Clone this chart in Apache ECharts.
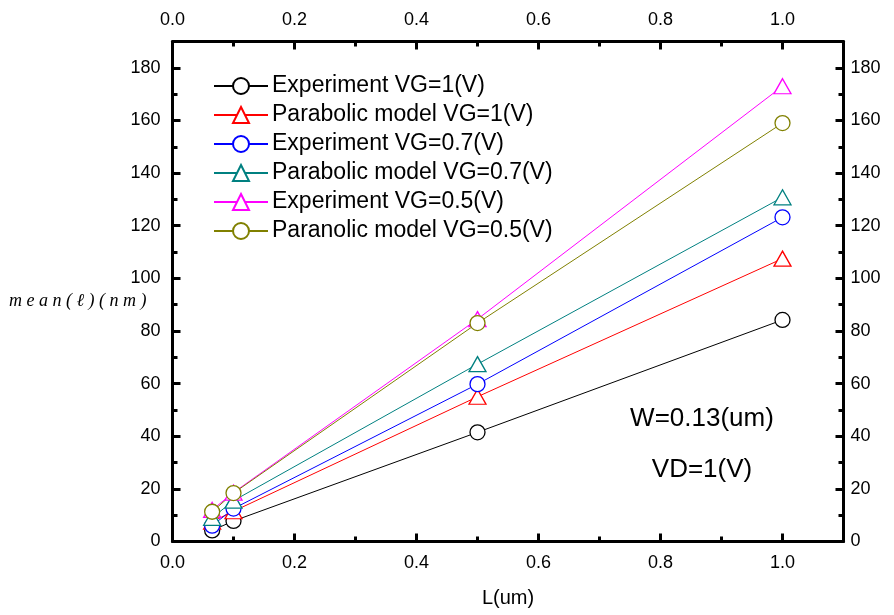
<!DOCTYPE html>
<html><head><meta charset="utf-8">
<script src="https://cdn.jsdelivr.net/npm/echarts@6/dist/echarts.min.js"></script>
<style>html,body{margin:0;padding:0;background:#fff}#c{width:894px;height:615px}</style>
</head><body><div id="c"></div>
<script>
const L = [0.065, 0.1, 0.5, 1.0];
const expVG1 = [4.2, 7.8, 41.5, 84.2];
const parVG1 = [7.5, 11.5, 55, 107.5];
const expVG07 = [6, 12.5, 59.8, 123.2];
const parVG07 = [9, 15.5, 67.4, 130.8];
const expVG05 = [12, 18.6, 84.5, 173];
const parVG05 = [11.3, 18.4, 83, 159];
const names = ['Experiment VG=1(V)','Parabolic model VG=1(V)','Experiment VG=0.7(V)','Parabolic model VG=0.7(V)','Experiment VG=0.5(V)','Paranolic model VG=0.5(V)'];
const colors = ['#000000','#ff0000','#0000ff','#008080','#ff00ff','#808000'];
const symbols = ['circle','triangle','circle','triangle','triangle','circle'];
const values = [expVG1, parVG1, expVG07, parVG07, expVG05, parVG05];

const FONT = 'Liberation Sans, Arial, sans-serif';
const chart = echarts.init(document.getElementById('c'));
function xAx(pos){
  return {type:'value', position:pos, min:0, max:1.1, interval:0.2,
    axisLine:{show:true, onZero:false, lineStyle:{color:'#000', width:3}},
    axisTick:{show:true, inside:true, length:8, lineStyle:{color:'#000', width:3}},
    minorTick:{show:true, splitNumber:2, length:5, lineStyle:{color:'#000', width:3}},
    splitLine:{show:false},
    axisLabel:{show:true, showMaxLabel:false, color:'#000', fontSize:18, fontFamily:FONT, margin:pos==='bottom'?13:12, formatter:v=>v.toFixed(1)}
  };
}
function yAx(pos){
  return {type:'value', position:pos, min:0, max:190, interval:20,
    axisLine:{show:true, onZero:false, lineStyle:{color:'#000', width:3}},
    axisTick:{show:true, inside:true, length:8, lineStyle:{color:'#000', width:3}},
    minorTick:{show:true, splitNumber:2, length:5, lineStyle:{color:'#000', width:3}},
    splitLine:{show:false},
    axisLabel:{show:true, showMaxLabel:false, color:'#000', fontSize:18, fontFamily:FONT, margin:pos==='left'?12:7}
  };
}
const series = values.map((vals,i)=>({
  name:names[i], type:'line', xAxisIndex:0, yAxisIndex:0,
  data:L.map((x,j)=>[x, vals[j]]),
  symbol:symbols[i], symbolSize: symbols[i]==='circle'?15:[17,15],
  showAllSymbol:true,
  lineStyle:{color:colors[i], width:1},
  itemStyle:{color:'#fff', borderColor:colors[i], borderWidth:1.3},
  emphasis:{disabled:true}, animation:false
}));
chart.setOption({
  animation:false,
  grid:{left:172.5, right:50.5, top:41.5, bottom:73.5, containLabel:false},
  xAxis:[xAx('bottom'), xAx('top')],
  yAxis:[yAx('left'), yAx('right')],
  legend:{orient:'vertical', left:208, top:69, itemWidth:54, itemHeight:20, itemGap:5,
    data:names,
    textStyle:{fontSize:23, fontFamily:FONT, color:'#000', lineHeight:24, padding:[0,0,0,-1]}, selectedMode:false},
  graphic:[
    {type:'text', left:9, top:292, style:{text:'m e a n ( ℓ ) ( n m )', font:'italic 18px "Liberation Serif", "Times New Roman", serif', fill:'#000'}},
    {type:'text', style:{text:'L(um)', font:'20px '+FONT, fill:'#000', x:508, y:598, textAlign:'center', textVerticalAlign:'middle'}},
    {type:'text', style:{text:'W=0.13(um)', font:'26px '+FONT, fill:'#000', x:702, y:419, textAlign:'center', textVerticalAlign:'middle'}},
    {type:'text', style:{text:'VD=1(V)', font:'26px '+FONT, fill:'#000', x:702, y:470, textAlign:'center', textVerticalAlign:'middle'}}
  ],
  series:series
});
</script></body></html>
